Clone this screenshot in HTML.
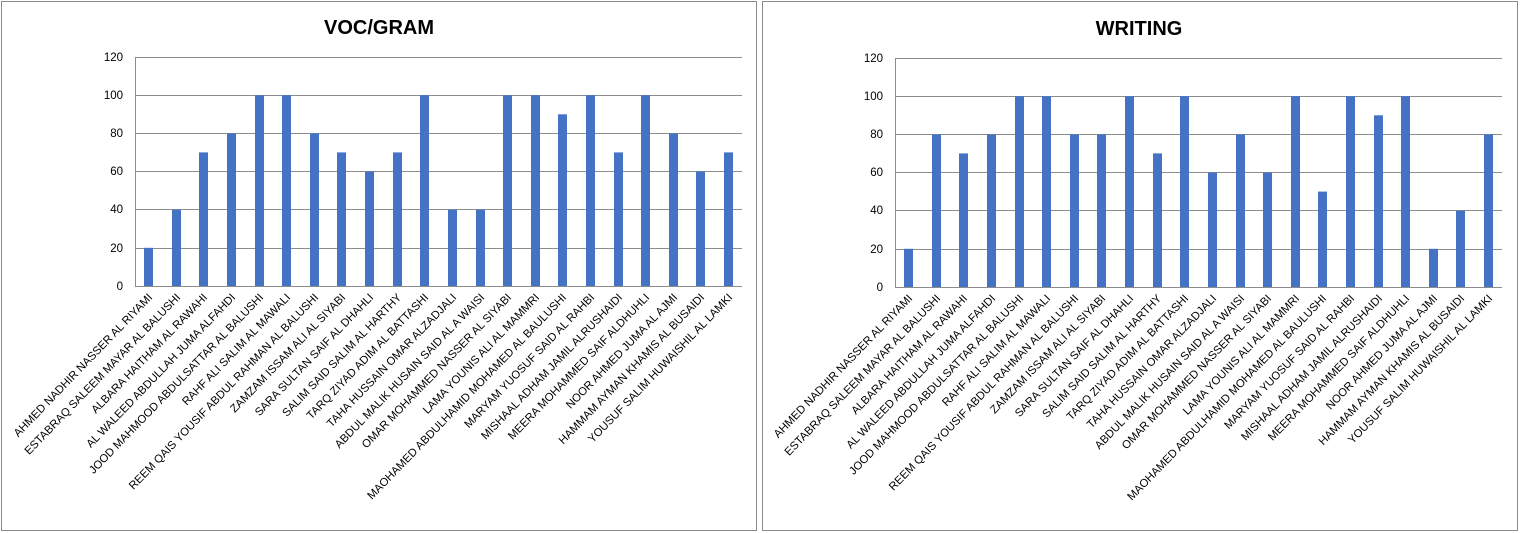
<!DOCTYPE html>
<html><head><meta charset="utf-8"><style>
html,body{margin:0;padding:0;background:#fff;}
svg{display:block;}
text{font-family:"Liberation Sans",sans-serif;fill:#000;}
.t{font-size:20px;font-weight:bold;text-anchor:middle;}
.y{font-size:11.5px;text-anchor:end;}
.l{font-size:11.3px;text-anchor:end;}
.g{stroke:#8c8c8c;stroke-width:1;}
rect.b{fill:#4472c4;}
</style></head><body>
<svg width="1520" height="533" viewBox="0 0 1520 533">
<rect x="1.5" y="1.5" width="755" height="529" fill="#fff" stroke="#8a8a8a"/>
<rect x="762.5" y="1.5" width="755" height="529" fill="#fff" stroke="#8a8a8a"/>
<g id="c1">
<text class="t" x="379" y="34">VOC/GRAM</text>
<g class="g">
<line x1="135" y1="57.5" x2="742" y2="57.5"/>
<line x1="135" y1="95.5" x2="742" y2="95.5"/>
<line x1="135" y1="133.5" x2="742" y2="133.5"/>
<line x1="135" y1="171.5" x2="742" y2="171.5"/>
<line x1="135" y1="209.5" x2="742" y2="209.5"/>
<line x1="135" y1="248.5" x2="742" y2="248.5"/>
<line x1="135" y1="286.5" x2="742" y2="286.5"/>
<line x1="135.5" y1="57" x2="135.5" y2="287"/>
</g>
<text class="y" x="123" y="61">120</text>
<text class="y" x="123" y="99">100</text>
<text class="y" x="123" y="137">80</text>
<text class="y" x="123" y="175">60</text>
<text class="y" x="123" y="213">40</text>
<text class="y" x="123" y="252">20</text>
<text class="y" x="123" y="290">0</text>
<rect class="b" x="144" y="247.8" width="9" height="38.2"/>
<rect class="b" x="172" y="209.7" width="9" height="76.3"/>
<rect class="b" x="199" y="152.4" width="9" height="133.6"/>
<rect class="b" x="227" y="133.4" width="9" height="152.6"/>
<rect class="b" x="255" y="95.2" width="9" height="190.8"/>
<rect class="b" x="282" y="95.2" width="9" height="190.8"/>
<rect class="b" x="310" y="133.4" width="9" height="152.6"/>
<rect class="b" x="337" y="152.4" width="9" height="133.6"/>
<rect class="b" x="365" y="171.5" width="9" height="114.5"/>
<rect class="b" x="393" y="152.4" width="9" height="133.6"/>
<rect class="b" x="420" y="95.2" width="9" height="190.8"/>
<rect class="b" x="448" y="209.7" width="9" height="76.3"/>
<rect class="b" x="476" y="209.7" width="9" height="76.3"/>
<rect class="b" x="503" y="95.2" width="9" height="190.8"/>
<rect class="b" x="531" y="95.2" width="9" height="190.8"/>
<rect class="b" x="558" y="114.3" width="9" height="171.7"/>
<rect class="b" x="586" y="95.2" width="9" height="190.8"/>
<rect class="b" x="614" y="152.4" width="9" height="133.6"/>
<rect class="b" x="641" y="95.2" width="9" height="190.8"/>
<rect class="b" x="669" y="133.4" width="9" height="152.6"/>
<rect class="b" x="696" y="171.5" width="9" height="114.5"/>
<rect class="b" x="724" y="152.4" width="9" height="133.6"/>
<text class="l" transform="translate(153,298) rotate(-46)">AHMED NADHIR NASSER AL RIYAMI</text>
<text class="l" transform="translate(181,298) rotate(-46)">ESTABRAQ SALEEM MAYAR AL BALUSHI</text>
<text class="l" transform="translate(208,298) rotate(-46)">ALBARA HAITHAM AL RAWAHI</text>
<text class="l" transform="translate(236,298) rotate(-46)">AL WALEED ABDULLAH JUMA ALFAHDI</text>
<text class="l" transform="translate(264,298) rotate(-46)">JOOD MAHMOOD ABDULSATTAR AL BALUSHI</text>
<text class="l" transform="translate(291,298) rotate(-46)">RAHF ALI SALIM AL MAWALI</text>
<text class="l" transform="translate(319,298) rotate(-46)">REEM QAIS YOUSIF ABDUL RAHMAN AL BALUSHI</text>
<text class="l" transform="translate(346,298) rotate(-46)">ZAMZAM ISSAM ALI AL SIYABI</text>
<text class="l" transform="translate(374,298) rotate(-46)">SARA SULTAN SAIF AL DHAHLI</text>
<text class="l" transform="translate(402,298) rotate(-46)">SALIM SAID SALIM AL HARTHY</text>
<text class="l" transform="translate(429,298) rotate(-46)">TARQ ZIYAD ADIM AL BATTASHI</text>
<text class="l" transform="translate(457,298) rotate(-46)">TAHA HUSSAIN OMAR ALZADJALI</text>
<text class="l" transform="translate(485,298) rotate(-46)">ABDUL MALIK HUSAIN SAID AL A WAISI</text>
<text class="l" transform="translate(512,298) rotate(-46)">OMAR MOHAMMED  NASSER AL SIYABI</text>
<text class="l" transform="translate(540,298) rotate(-46)">LAMA YOUNIS ALI AL MAMMRI</text>
<text class="l" transform="translate(567,298) rotate(-46)">MAOHAMED ABDULHAMID MOHAMED  AL BAULUSHI</text>
<text class="l" transform="translate(595,298) rotate(-46)">MARYAM YUOSUF  SAID AL RAHBI</text>
<text class="l" transform="translate(623,298) rotate(-46)">MISHAAL ADHAM JAMIL ALRUSHAIDI</text>
<text class="l" transform="translate(650,298) rotate(-46)">MEERA MOHAMMED  SAIF  ALDHUHLI</text>
<text class="l" transform="translate(678,298) rotate(-46)">NOOR AHMED JUMA  AL AJMI</text>
<text class="l" transform="translate(705,298) rotate(-46)">HAMMAM AYMAN KHAMIS AL BUSAIDI</text>
<text class="l" transform="translate(733,298) rotate(-46)">YOUSUF SALIM HUWAISHIL AL LAMKI</text>
</g>
<g transform="translate(760,1)">
<text class="t" x="379" y="34">WRITING</text>
<g class="g">
<line x1="135" y1="57.5" x2="742" y2="57.5"/>
<line x1="135" y1="95.5" x2="742" y2="95.5"/>
<line x1="135" y1="133.5" x2="742" y2="133.5"/>
<line x1="135" y1="171.5" x2="742" y2="171.5"/>
<line x1="135" y1="209.5" x2="742" y2="209.5"/>
<line x1="135" y1="248.5" x2="742" y2="248.5"/>
<line x1="135" y1="286.5" x2="742" y2="286.5"/>
<line x1="135.5" y1="57" x2="135.5" y2="287"/>
</g>
<text class="y" x="123" y="61">120</text>
<text class="y" x="123" y="99">100</text>
<text class="y" x="123" y="137">80</text>
<text class="y" x="123" y="175">60</text>
<text class="y" x="123" y="213">40</text>
<text class="y" x="123" y="252">20</text>
<text class="y" x="123" y="290">0</text>
<rect class="b" x="144" y="247.8" width="9" height="38.2"/>
<rect class="b" x="172" y="133.4" width="9" height="152.6"/>
<rect class="b" x="199" y="152.4" width="9" height="133.6"/>
<rect class="b" x="227" y="133.4" width="9" height="152.6"/>
<rect class="b" x="255" y="95.2" width="9" height="190.8"/>
<rect class="b" x="282" y="95.2" width="9" height="190.8"/>
<rect class="b" x="310" y="133.4" width="9" height="152.6"/>
<rect class="b" x="337" y="133.4" width="9" height="152.6"/>
<rect class="b" x="365" y="95.2" width="9" height="190.8"/>
<rect class="b" x="393" y="152.4" width="9" height="133.6"/>
<rect class="b" x="420" y="95.2" width="9" height="190.8"/>
<rect class="b" x="448" y="171.5" width="9" height="114.5"/>
<rect class="b" x="476" y="133.4" width="9" height="152.6"/>
<rect class="b" x="503" y="171.5" width="9" height="114.5"/>
<rect class="b" x="531" y="95.2" width="9" height="190.8"/>
<rect class="b" x="558" y="190.6" width="9" height="95.4"/>
<rect class="b" x="586" y="95.2" width="9" height="190.8"/>
<rect class="b" x="614" y="114.3" width="9" height="171.7"/>
<rect class="b" x="641" y="95.2" width="9" height="190.8"/>
<rect class="b" x="669" y="247.8" width="9" height="38.2"/>
<rect class="b" x="696" y="209.7" width="9" height="76.3"/>
<rect class="b" x="724" y="133.4" width="9" height="152.6"/>
<text class="l" transform="translate(153,298) rotate(-46)">AHMED NADHIR NASSER AL RIYAMI</text>
<text class="l" transform="translate(181,298) rotate(-46)">ESTABRAQ SALEEM MAYAR AL BALUSHI</text>
<text class="l" transform="translate(208,298) rotate(-46)">ALBARA HAITHAM AL RAWAHI</text>
<text class="l" transform="translate(236,298) rotate(-46)">AL WALEED ABDULLAH JUMA ALFAHDI</text>
<text class="l" transform="translate(264,298) rotate(-46)">JOOD MAHMOOD ABDULSATTAR AL BALUSHI</text>
<text class="l" transform="translate(291,298) rotate(-46)">RAHF ALI SALIM AL MAWALI</text>
<text class="l" transform="translate(319,298) rotate(-46)">REEM QAIS YOUSIF ABDUL RAHMAN AL BALUSHI</text>
<text class="l" transform="translate(346,298) rotate(-46)">ZAMZAM ISSAM ALI AL SIYABI</text>
<text class="l" transform="translate(374,298) rotate(-46)">SARA SULTAN SAIF AL DHAHLI</text>
<text class="l" transform="translate(402,298) rotate(-46)">SALIM SAID SALIM AL HARTHY</text>
<text class="l" transform="translate(429,298) rotate(-46)">TARQ ZIYAD ADIM AL BATTASHI</text>
<text class="l" transform="translate(457,298) rotate(-46)">TAHA HUSSAIN OMAR ALZADJALI</text>
<text class="l" transform="translate(485,298) rotate(-46)">ABDUL MALIK HUSAIN SAID AL A WAISI</text>
<text class="l" transform="translate(512,298) rotate(-46)">OMAR MOHAMMED  NASSER AL SIYABI</text>
<text class="l" transform="translate(540,298) rotate(-46)">LAMA YOUNIS ALI AL MAMMRI</text>
<text class="l" transform="translate(567,298) rotate(-46)">MAOHAMED ABDULHAMID MOHAMED  AL BAULUSHI</text>
<text class="l" transform="translate(595,298) rotate(-46)">MARYAM YUOSUF  SAID AL RAHBI</text>
<text class="l" transform="translate(623,298) rotate(-46)">MISHAAL ADHAM JAMIL ALRUSHAIDI</text>
<text class="l" transform="translate(650,298) rotate(-46)">MEERA MOHAMMED  SAIF  ALDHUHLI</text>
<text class="l" transform="translate(678,298) rotate(-46)">NOOR AHMED JUMA  AL AJMI</text>
<text class="l" transform="translate(705,298) rotate(-46)">HAMMAM AYMAN KHAMIS AL BUSAIDI</text>
<text class="l" transform="translate(733,298) rotate(-46)">YOUSUF SALIM HUWAISHIL AL LAMKI</text>
</g>
</svg>
</body></html>
